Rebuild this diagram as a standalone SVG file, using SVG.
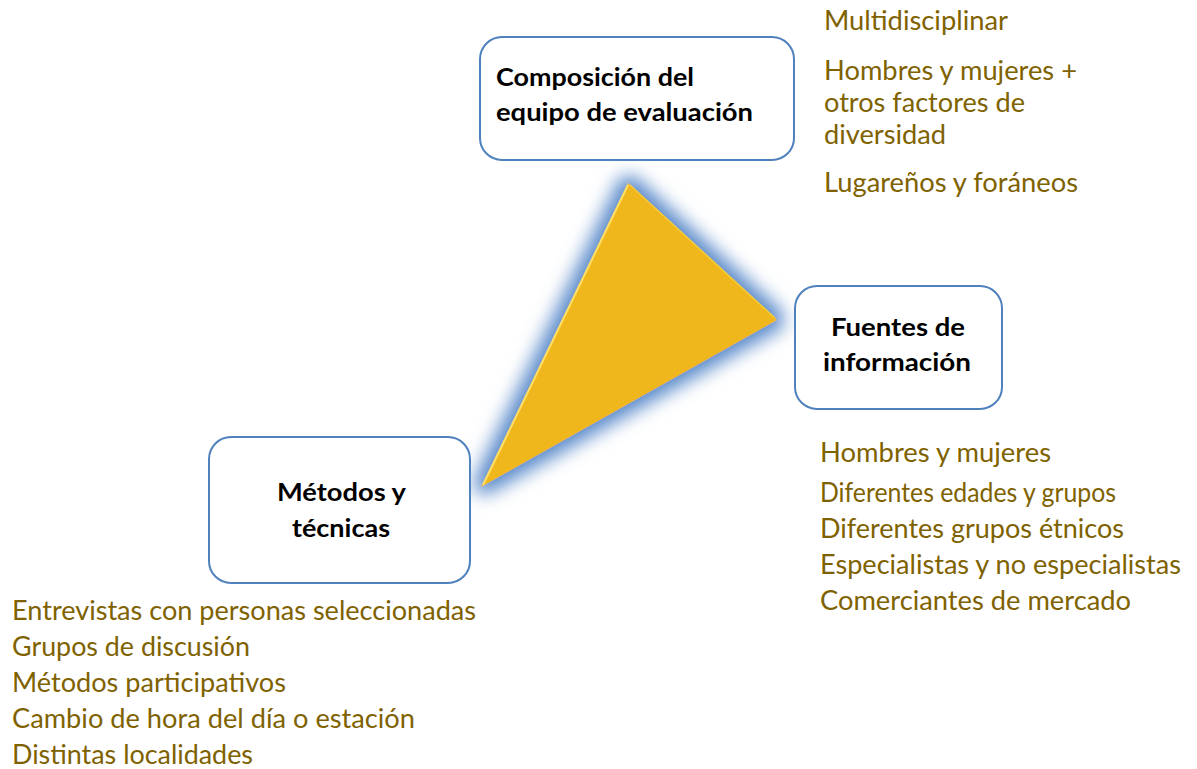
<svg xmlns="http://www.w3.org/2000/svg" width="1197" height="769" viewBox="0 0 1197 769">
<style>
.box{fill:#fff;stroke:#4F81BD;stroke-width:2}
.t{font-family:Lato,"Open Sans",sans-serif;font-size:26px;fill:#7F6200}
.b{font-family:Lato,"Open Sans",sans-serif;font-size:25px;font-weight:bold;fill:#000}
</style>
<defs>
<filter id="glow" x="-50%" y="-50%" width="200%" height="200%">
<feMorphology in="SourceAlpha" operator="dilate" radius="7" result="d"/>
<feGaussianBlur in="d" stdDeviation="9" result="b"/>
<feFlood flood-color="#5A8ACA" flood-opacity="1"/>
<feComposite in2="b" operator="in" result="g"/>
<feMerge><feMergeNode in="g"/><feMergeNode in="SourceGraphic"/></feMerge>
</filter>
</defs>
<g id="triangle">
<polygon points="628,183 777,320 481,487" fill="#F0B71A" filter="url(#glow)"/>
<line x1="628" y1="185" x2="483" y2="485" stroke="#FFE066" stroke-width="2"/>
<line x1="630" y1="185" x2="775" y2="318" stroke="#F7CC3A" stroke-width="1.5"/>
</g>
<g id="node-composicion">
<rect class="box" x="480" y="37" width="314" height="123" rx="22"/>
<text class="b" x="496" y="86" textLength="198" lengthAdjust="spacingAndGlyphs">Composición del</text>
<text class="b" x="496" y="121" textLength="257" lengthAdjust="spacingAndGlyphs">equipo de evaluación</text>
</g>
<g id="node-fuentes">
<rect class="box" x="795" y="286" width="207" height="123" rx="22"/>
<text class="b" x="831" y="336" textLength="134" lengthAdjust="spacingAndGlyphs">Fuentes de</text>
<text class="b" x="823" y="371" textLength="148" lengthAdjust="spacingAndGlyphs">información</text>
</g>
<g id="node-metodos">
<rect class="box" x="209" y="437" width="261" height="146" rx="22"/>
<text class="b" x="277" y="501" textLength="129" lengthAdjust="spacingAndGlyphs">Métodos y</text>
<text class="b" x="292" y="537" textLength="98" lengthAdjust="spacingAndGlyphs">técnicas</text>
</g>
<g id="list-composicion">
<text class="t" x="824" y="30" textLength="184" lengthAdjust="spacingAndGlyphs">Multidisciplinar</text>
<text class="t" x="824" y="80" textLength="253" lengthAdjust="spacingAndGlyphs">Hombres y mujeres +</text>
<text class="t" x="824" y="112" textLength="201" lengthAdjust="spacingAndGlyphs">otros factores de</text>
<text class="t" x="824" y="144" textLength="122" lengthAdjust="spacingAndGlyphs">diversidad</text>
<text class="t" x="824" y="192" textLength="254" lengthAdjust="spacingAndGlyphs">Lugareños y foráneos</text>
</g>
<g id="list-fuentes">
<text class="t" x="820" y="462" textLength="231" lengthAdjust="spacingAndGlyphs">Hombres y mujeres</text>
<text class="t" x="820" y="502" textLength="296" lengthAdjust="spacingAndGlyphs">Diferentes edades y grupos</text>
<text class="t" x="820" y="538" textLength="304" lengthAdjust="spacingAndGlyphs">Diferentes grupos étnicos</text>
<text class="t" x="820" y="574" textLength="361" lengthAdjust="spacingAndGlyphs">Especialistas y no especialistas</text>
<text class="t" x="820" y="610" textLength="311" lengthAdjust="spacingAndGlyphs">Comerciantes de mercado</text>
</g>
<g id="list-metodos">
<text class="t" x="12" y="620" textLength="464" lengthAdjust="spacingAndGlyphs">Entrevistas con personas seleccionadas</text>
<text class="t" x="12" y="656" textLength="238" lengthAdjust="spacingAndGlyphs">Grupos de discusión</text>
<text class="t" x="12" y="692" textLength="274" lengthAdjust="spacingAndGlyphs">Métodos participativos</text>
<text class="t" x="12" y="728" textLength="403" lengthAdjust="spacingAndGlyphs">Cambio de hora del día o estación</text>
<text class="t" x="12" y="764" textLength="241" lengthAdjust="spacingAndGlyphs">Distintas localidades</text>
</g>
</svg>
